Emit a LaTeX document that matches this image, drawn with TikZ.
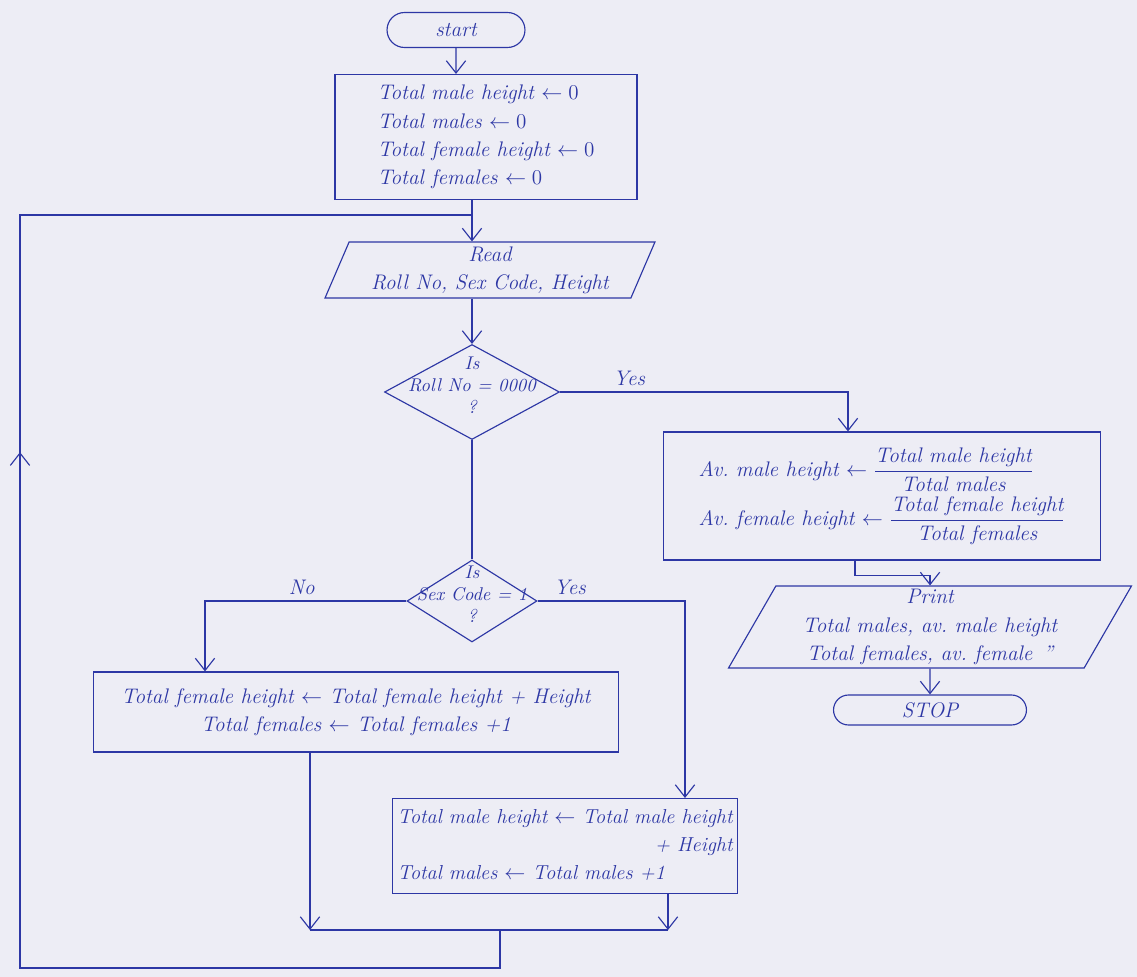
\documentclass[tikz,border=0pt]{standalone}
\usepackage{amsmath}
\usetikzlibrary{shapes.geometric,shapes.misc,arrows.meta,calc,decorations.markings}

\definecolor{ink}{RGB}{45,55,165}
\definecolor{paper}{RGB}{237,237,245}

% text inside a decision box, not counted in its size
\newcommand{\dectext}[1]{\smash{\makebox[0pt]{\begin{tabular}{@{}c@{}}#1\end{tabular}}}}

\tikzset{
  termbox/.style={draw, rounded rectangle, minimum height=0.7cm, inner sep=2pt},
  procbox/.style={draw, rectangle, align=left, inner sep=5pt},
  iobox/.style={draw, trapezium, trapezium stretches body, align=center, inner sep=2pt},
  decbox/.style={draw, diamond, inner sep=0pt, font=\fontsize{10.5}{12.5}\selectfont\itshape},
  flow/.style={-{Straight Barb[length=7pt,width=11pt]}},
}

\begin{document}
\begin{tikzpicture}[x=0.02cm, y=-0.02cm, color=ink, line width=0.65pt,
  every node/.style={font=\fontsize{12}{16}\selectfont\itshape}]

  % Paper
  \fill[paper] (0,0) rectangle (1137,977);
  \useasboundingbox (0,0) rectangle (1137,977);

  % Main column
  \node[termbox, minimum width=2.9cm] (start) at (456,30) {start};
  \node[procbox, minimum width=6.04cm, minimum height=2.5cm] (init) at (486,137)
    {Total male height $\leftarrow 0$\\
     Total males $\leftarrow 0$\\
     Total female height $\leftarrow 0$\\
     Total females $\leftarrow 0$};
  \node[iobox, trapezium left angle=66, trapezium right angle=114,
    minimum width=6.6cm, minimum height=1.12cm] (read) at (490,270)
    {Read\\ Roll No, Sex Code, Height};
  \node[decbox, minimum width=3.5cm, minimum height=1.9cm] (d1) at (472,392)
    {\dectext{Is\\ Roll No = 0000\\ ?}};
  \node[decbox, minimum width=2.6cm, minimum height=1.64cm] (d2) at (472,601)
    {\dectext{Is\\ Sex Code = 1\\ ?}};

  % Branches
  \node[procbox, align=center, minimum width=10.5cm, minimum height=1.6cm] (female) at (356,712)
    {Total female height $\leftarrow$ Total female height + Height\\
     Total females $\leftarrow$ Total females +1};
  \node[procbox, inner sep=3pt, minimum width=6.8cm, minimum height=1.86cm,
    font=\fontsize{11.5}{16}\selectfont\itshape] (male) at (565,846)
    {\begin{tabular}{@{}l@{}}
       Total male height $\leftarrow$ Total male height\\
       \multicolumn{1}{@{}r@{}}{+ Height}\\
       Total males $\leftarrow$ Total males +1
     \end{tabular}};

  % Results
  \node[procbox, minimum width=8.74cm, minimum height=2.56cm] (av) at (882,496)
    {Av.\ male height $\leftarrow \dfrac{\text{Total male height}}{\text{Total males}}$\\[2pt]
     Av.\ female height $\leftarrow \dfrac{\text{Total female height}}{\text{Total females}}$};
  \node[iobox, trapezium left angle=60, trapezium right angle=120,
    minimum width=8.06cm, minimum height=1.5cm] (print) at (930,627)
    {Print\\ Total males, av.\ male height\\ Total females, av.\ female \,''};
  \node[termbox, minimum width=4cm, minimum height=0.6cm] (stop) at (930,710) {STOP};

  % Join and loop points
  \coordinate (merge) at (472,215);
  \coordinate (joinL) at (310,930);
  \coordinate (joinR) at (668,930);
  \coordinate (joinM) at (500,930);
  \coordinate (loopB) at (500,968);
  \coordinate (loopL) at (20,968);
  \coordinate (loopT) at (20,215);

  % Connections
  \draw[flow] (start) -- (start |- init.north);
  \draw (merge |- init.south) -- (merge);
  \draw[flow] (merge) -- (merge |- read.north);
  \draw[flow] (read.south -| d1) -- (d1.north);
  \draw[flow] (d1.east) -| node[above, pos=0.12] {Yes} ($(av.north)+(-34,0)$);
  \draw (d1.south) -- (d2.north);
  \draw[flow] (d2.west) -| node[above, pos=0.26] {No} ($(female.north)+(-151,0)$);
  \draw[flow] (d2.east) -| node[above, pos=0.11] {Yes} ($(male.north)+(120,0)$);
  \draw[flow] (female.south -| joinL) -- (joinL);
  \draw[flow] (male.south -| joinR) -- (joinR);
  \draw (joinL) -- (joinR);
  \draw[postaction={decorate}, decoration={markings,
    mark=at position 0.6 with {\arrow{Straight Barb[length=7pt,width=11pt]}}}]
    (joinM) -- (loopB) -- (loopL) -- (loopT) -- (merge);
  \draw[flow] ($(av.south)+(-27,0)$) -- ++(0,15) -| (print.north);
  \draw[flow] (print.south) -- (stop.north);

\end{tikzpicture}
\end{document}
